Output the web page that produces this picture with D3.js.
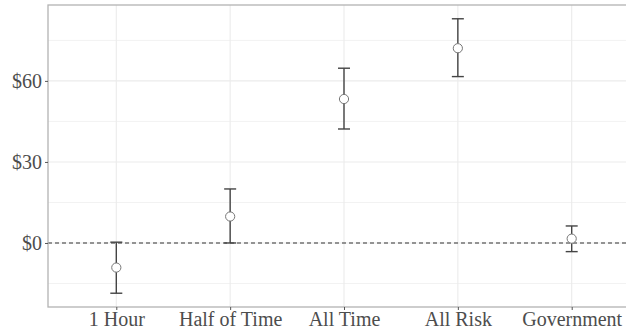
<!DOCTYPE html>
<html>
<head>
<meta charset="utf-8">
<script src="https://cdn.jsdelivr.net/npm/d3@7"></script>
<style>
  body { margin: 0; background: #fff; }
  svg { display: block; overflow: hidden; }
  text { font-family: "Liberation Serif", "Times New Roman", serif; }
</style>
</head>
<body>
<div id="chart"></div>
<script>
// estimates
const categories = ["1 Hour", "Half of Time", "All Time", "All Risk", "Government"];
const estimates = [-9.1, 9.8, 53.3, 72.1, 1.6];
const lowerCI = [-18.6, 0.0, 42.2, 61.6, -3.2];
const upperCI = [0.3, 20.0, 64.7, 83.0, 6.3];
const yTicks = [0, 30, 60];
const yMinor = [-15, 15, 45, 75];

const width = 626, height = 331;
const panel = { left: 48, top: 5, right: 640, bottom: 307 };

const svg = d3.select("#chart").append("svg")
  .attr("width", width)
  .attr("height", height);

const x = d3.scalePoint()
  .domain(categories)
  .range([panel.left, panel.right])
  .padding(0.6);

const y = d3.scaleLinear()
  .domain([-23.7, 88.1])
  .range([panel.bottom, panel.top]);

// grid
svg.append("g").selectAll("line.minor")
  .data(yMinor)
  .join("line")
  .attr("x1", panel.left).attr("x2", panel.right)
  .attr("y1", d => y(d)).attr("y2", d => y(d))
  .attr("stroke", "#f2f2f2").attr("stroke-width", 1);

svg.append("g").selectAll("line.major")
  .data(yTicks)
  .join("line")
  .attr("x1", panel.left).attr("x2", panel.right)
  .attr("y1", d => y(d)).attr("y2", d => y(d))
  .attr("stroke", "#ebebeb").attr("stroke-width", 1.1);

svg.append("g").selectAll("line.vgrid")
  .data(categories)
  .join("line")
  .attr("x1", d => x(d)).attr("x2", d => x(d))
  .attr("y1", panel.top).attr("y2", panel.bottom)
  .attr("stroke", "#ebebeb").attr("stroke-width", 1.1);

// zero reference line
svg.append("line")
  .attr("x1", panel.left).attr("x2", panel.right)
  .attr("y1", y(0)).attr("y2", y(0))
  .attr("stroke", "#333").attr("stroke-width", 1.1)
  .attr("stroke-dasharray", "4,3");

// error bars
const bars = svg.append("g");
categories.forEach((c, i) => {
  const cx = x(c);
  bars.append("line")
    .attr("x1", cx).attr("x2", cx)
    .attr("y1", y(lowerCI[i])).attr("y2", y(upperCI[i]))
    .attr("stroke", "#444").attr("stroke-width", 1.4);
  [lowerCI[i], upperCI[i]].forEach(v => {
    bars.append("line")
      .attr("x1", cx - 6).attr("x2", cx + 6)
      .attr("y1", y(v)).attr("y2", y(v))
      .attr("stroke", "#444").attr("stroke-width", 1.4);
  });
});

// points
svg.append("g").selectAll("circle")
  .data(categories)
  .join("circle")
  .attr("cx", d => x(d))
  .attr("cy", (d, i) => y(estimates[i]))
  .attr("r", 4.6)
  .attr("fill", "#fff")
  .attr("stroke", "#777")
  .attr("stroke-width", 1);

// panel border
svg.append("rect")
  .attr("x", panel.left).attr("y", panel.top)
  .attr("width", panel.right - panel.left)
  .attr("height", panel.bottom - panel.top)
  .attr("fill", "none")
  .attr("stroke", "#b3b3b3").attr("stroke-width", 1.3);

// axes
const yAxis = svg.append("g")
  .attr("transform", `translate(${panel.left},0)`)
  .call(d3.axisLeft(y).tickValues(yTicks).tickSize(3).tickPadding(3)
    .tickFormat(d => "$" + d));
yAxis.select(".domain").remove();

const xAxis = svg.append("g")
  .attr("transform", `translate(0,${panel.bottom})`)
  .call(d3.axisBottom(x).tickSize(3).tickPadding(2));
xAxis.select(".domain").remove();

svg.selectAll(".tick line").attr("stroke", "#555");
svg.selectAll(".tick text")
  .attr("fill", "#4d4d4d")
  .style("font-size", "20px")
  .style("font-family", "'Liberation Serif', serif");
</script>
</body>
</html>
